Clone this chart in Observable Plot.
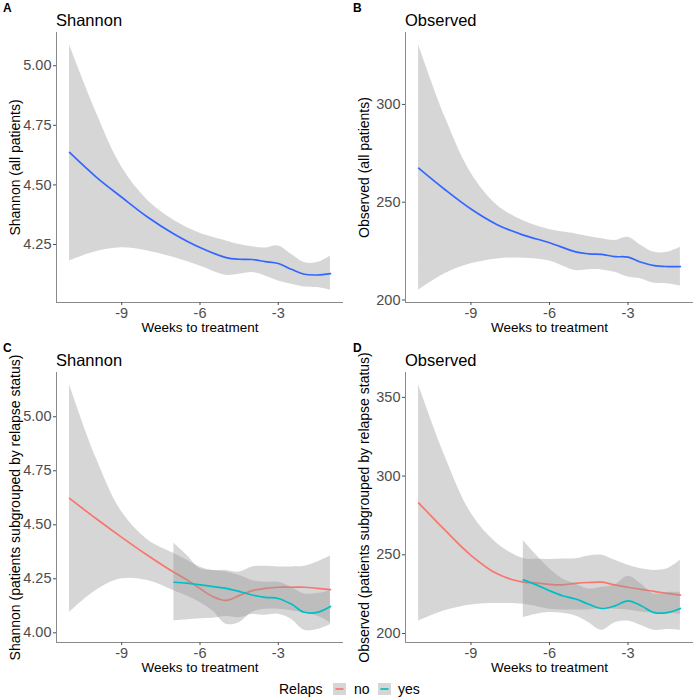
<!DOCTYPE html>
<html><head><meta charset="utf-8">
<script src="https://cdn.jsdelivr.net/npm/d3@7"></script>
<script src="https://cdn.jsdelivr.net/npm/@observablehq/plot@0.6"></script>
<style>
body{margin:0;background:#fff;font-family:"Liberation Sans",Arial,Helvetica,sans-serif;}
#root{position:relative;width:700px;height:700px;overflow:hidden;}
.panel{position:absolute;}
.tag{position:absolute;font-weight:bold;font-size:12px;line-height:12px;color:#000;}
.title{position:absolute;font-size:16.5px;line-height:16px;color:#000;}
.leg{position:absolute;font-size:14px;line-height:14px;color:#000;}
.key{position:absolute;}
</style></head><body><div id="root"></div>
<script>
// ---------- data ----------
const weeksAll = [-11,-10,-9,-8,-7,-6,-5,-4.5,-4,-3.5,-3,-2.5,-2,-1.5,-1];
const weeksNo  = [-11,-10,-9,-8,-7,-6.5,-6,-5.5,-5,-4.5,-4,-3.5,-3,-2.5,-2,-1.5,-1];
const weeksYes = [-7,-6.5,-6,-5.5,-5,-4.5,-4,-3.5,-3,-2.5,-2,-1.5,-1];
const xTicks = [-9,-6,-3];

// Panel A: Shannon, all patients
const shannonAllFit = [4.636,4.535,4.448,4.364,4.294,4.237,4.195,4.188,4.187,4.178,4.17,4.146,4.125,4.122,4.128];
const shannonAllHi  = [5.088,4.81,4.575,4.435,4.352,4.297,4.265,4.25,4.24,4.235,4.244,4.209,4.174,4.174,4.202];
const shannonAllLo  = [4.181,4.219,4.236,4.223,4.195,4.16,4.121,4.125,4.132,4.118,4.097,4.083,4.072,4.069,4.058];

// Panel B: Observed, all patients
const observedAllFit = [267.4,256.5,246.5,238.5,233.2,229.3,224.6,223.6,223.3,222.2,221.9,219.3,217.6,217.1,217.1];
const observedAllHi  = [330.5,294,265,248.5,240.5,236,233.8,232.5,231.3,230.4,232.1,227.9,224.4,224.4,227];
const observedAllLo  = [205,213.4,218.5,221,221.4,220,215.1,215.5,215.4,214.2,211.7,210.8,208.6,208.3,207.1];

// Panel C: Shannon by relapse status
const shannonNoFit  = [4.622,4.53,4.442,4.358,4.28,4.245,4.205,4.167,4.15,4.172,4.195,4.206,4.211,4.211,4.211,4.206,4.2];
const shannonNoHi   = [5.148,4.815,4.56,4.43,4.367,4.336,4.305,4.289,4.289,4.281,4.305,4.308,4.305,4.305,4.308,4.328,4.356];
const shannonNoLo   = [4.094,4.195,4.25,4.242,4.195,4.17,4.14,4.1,4.04,4.047,4.094,4.109,4.109,4.102,4.091,4.078,4.047];
const shannonYesFit = [4.234,4.23,4.222,4.214,4.206,4.192,4.175,4.164,4.159,4.133,4.095,4.095,4.122];
const shannonYesHi  = [4.414,4.359,4.297,4.289,4.281,4.266,4.242,4.234,4.234,4.211,4.18,4.182,4.195];
const shannonYesLo  = [4.055,4.06,4.065,4.068,4.075,4.07,4.085,4.081,4.086,4.063,4.012,4.015,4.039];

// Panel D: Observed by relapse status
const observedNoFit  = [283,265.8,249.7,237.9,232.6,232.2,231.2,230.9,231.9,232.4,232.6,230.9,229.4,228,226.8,225.5,224.4];
const observedNoHi   = [358,312.9,276.5,257.2,247.6,247.2,247.1,247.3,247.5,249.3,249.7,246.5,243.3,241.1,240.1,241.1,246.5];
const observedNoLo   = [207.9,214.4,218.2,219.1,218.6,217.2,215.5,215,215,215,215.9,215.4,215,213.7,212.9,212.9,212.2];
const observedYesFit = [234.1,230.9,227.2,224,221.9,218.6,215.9,217.6,220.8,217.6,213.3,213.3,215.9];
const observedYesHi  = [258.9,249.7,241.1,234.7,231.5,228.3,229.4,230.9,236.4,231.5,225.1,226.1,226.1];
const observedYesLo  = [210.1,212.2,213.3,212.9,211.1,206.9,202.1,206.9,207.9,205.1,202.1,202.6,202.1];

const shannonTicks = [4.00,4.25,4.50,4.75,5.00];
const observedTicks = [200,250,300,350];
const relapsLevels = ["no","yes"];
const colAll = "#3366FF", colNo = "#F8766D", colYes = "#00BFC4";

// ---------- drawing ----------
const root = document.getElementById("root");
const FONT = '"Liberation Sans", Arial, Helvetica, sans-serif';

function panel({left, top, ml, tag, title, ylabel, series, ticks, fmt}) {
  const all = series.flatMap(s => [...s.lo, ...s.hi]);
  const lo = d3.min(all), hi = d3.max(all), pad = (hi - lo) * 0.05;
  const y0 = lo - pad, y1 = hi + pad;
  const x0 = d3.min(series, s => d3.min(s.x)), x1 = d3.max(series, s => d3.max(s.x));
  const xpad = (x1 - x0) * 0.05;
  const marks = [];
  for (const s of series) {
    const rows = s.x.map((x, i) => ({x, fit: s.fit[i], lo: s.lo[i], hi: s.hi[i]}));
    marks.push(Plot.areaY(rows, {x: "x", y1: "lo", y2: "hi", fill: "#999999", fillOpacity: 0.4, curve: "catmull-rom"}));
    marks.push(Plot.lineY(rows, {x: "x", y: "fit", stroke: s.color, strokeWidth: 1.7, curve: "catmull-rom"}));
  }
  const svg = Plot.plot({
    width: 350, height: 340,
    marginLeft: ml, marginRight: 7, marginTop: 32, marginBottom: 38,
    x: {domain: [x0 - xpad, x1 + xpad]},
    y: {domain: [y0, y1]},
    style: {fontFamily: FONT, fontSize: "14px", color: "#4D4D4D", overflow: "visible", background: "transparent"},
    marks: [
      ...marks,
      Plot.ruleX([x0 - xpad], {stroke: "#8a8a8a", strokeWidth: 1}),
      Plot.ruleY([y0], {stroke: "#8a8a8a", strokeWidth: 1}),
      Plot.axisX({ticks: xTicks, tickFormat: d => String(d), tickSize: 3, tickPadding: 2, fontSize: 14.5, label: null}),
      Plot.axisY({ticks: ticks.filter(t => t >= y0 && t <= y1), tickFormat: fmt, tickSize: 3, tickPadding: 2, fontSize: 14.5, label: null}),
      Plot.text(["Weeks to treatment"], {frameAnchor: "bottom", lineAnchor: "middle", textAnchor: "middle", dy: 25, fontSize: 13.5, fill: "#000"}),
      Plot.text([ylabel], {frameAnchor: "left", rotate: -90, lineAnchor: "middle", textAnchor: "middle", dx: -41, fontSize: 14, fill: "#000"})
    ]
  });
  const wrap = document.createElement("div");
  wrap.className = "panel";
  wrap.style.left = left + "px"; wrap.style.top = top + "px";
  wrap.appendChild(svg);
  root.appendChild(wrap);
  const t = document.createElement("div");
  t.className = "tag"; t.textContent = tag;
  t.style.left = (left + 3) + "px"; t.style.top = (top + 2) + "px";
  root.appendChild(t);
  const ti = document.createElement("div");
  ti.className = "title"; ti.textContent = title;
  ti.style.left = (left + ml) + "px"; ti.style.top = (top + 12) + "px";
  root.appendChild(ti);
}

const f2 = d3.format(".2f"), f0 = d3.format("d");

panel({left: 0, top: 0, ml: 56, tag: "A", title: "Shannon", ylabel: "Shannon (all patients)",
  series: [{x: weeksAll, fit: shannonAllFit, hi: shannonAllHi, lo: shannonAllLo, color: colAll}],
  ticks: shannonTicks, fmt: f2});
panel({left: 350, top: 0, ml: 55, tag: "B", title: "Observed", ylabel: "Observed (all patients)",
  series: [{x: weeksAll, fit: observedAllFit, hi: observedAllHi, lo: observedAllLo, color: colAll}],
  ticks: observedTicks, fmt: f0});
panel({left: 0, top: 340, ml: 56, tag: "C", title: "Shannon", ylabel: "Shannon (patients subgrouped by relapse status)",
  series: [{x: weeksNo, fit: shannonNoFit, hi: shannonNoHi, lo: shannonNoLo, color: colNo},
           {x: weeksYes, fit: shannonYesFit, hi: shannonYesHi, lo: shannonYesLo, color: colYes}],
  ticks: shannonTicks, fmt: f2});
panel({left: 350, top: 340, ml: 55, tag: "D", title: "Observed", ylabel: "Observed (patients subgrouped by relapse status)",
  series: [{x: weeksNo, fit: observedNoFit, hi: observedNoHi, lo: observedNoLo, color: colNo},
           {x: weeksYes, fit: observedYesFit, hi: observedYesHi, lo: observedYesLo, color: colYes}],
  ticks: observedTicks, fmt: f0});

// legend
function legText(txt, x) {
  const d = document.createElement("div");
  d.className = "leg"; d.textContent = txt;
  d.style.left = x + "px"; d.style.top = "682px";
  root.appendChild(d);
}
function legKey(color, x) {
  const ns = "http://www.w3.org/2000/svg";
  const s = document.createElementNS(ns, "svg");
  s.setAttribute("width", 13); s.setAttribute("height", 12);
  s.setAttribute("class", "key");
  s.style.left = x + "px"; s.style.top = "683px";
  const r = document.createElementNS(ns, "rect");
  r.setAttribute("width", 13); r.setAttribute("height", 12); r.setAttribute("fill", "#D6D6D6");
  const l = document.createElementNS(ns, "line");
  l.setAttribute("x1", 2.5); l.setAttribute("x2", 10.5); l.setAttribute("y1", 6); l.setAttribute("y2", 6);
  l.setAttribute("stroke", color); l.setAttribute("stroke-width", 1.7);
  s.appendChild(r); s.appendChild(l);
  root.appendChild(s);
}
legText("Relaps", 279);
legKey(colNo, 333);
legText(relapsLevels[0], 354);
legKey(colYes, 378);
legText(relapsLevels[1], 398);
</script>
</body></html>
